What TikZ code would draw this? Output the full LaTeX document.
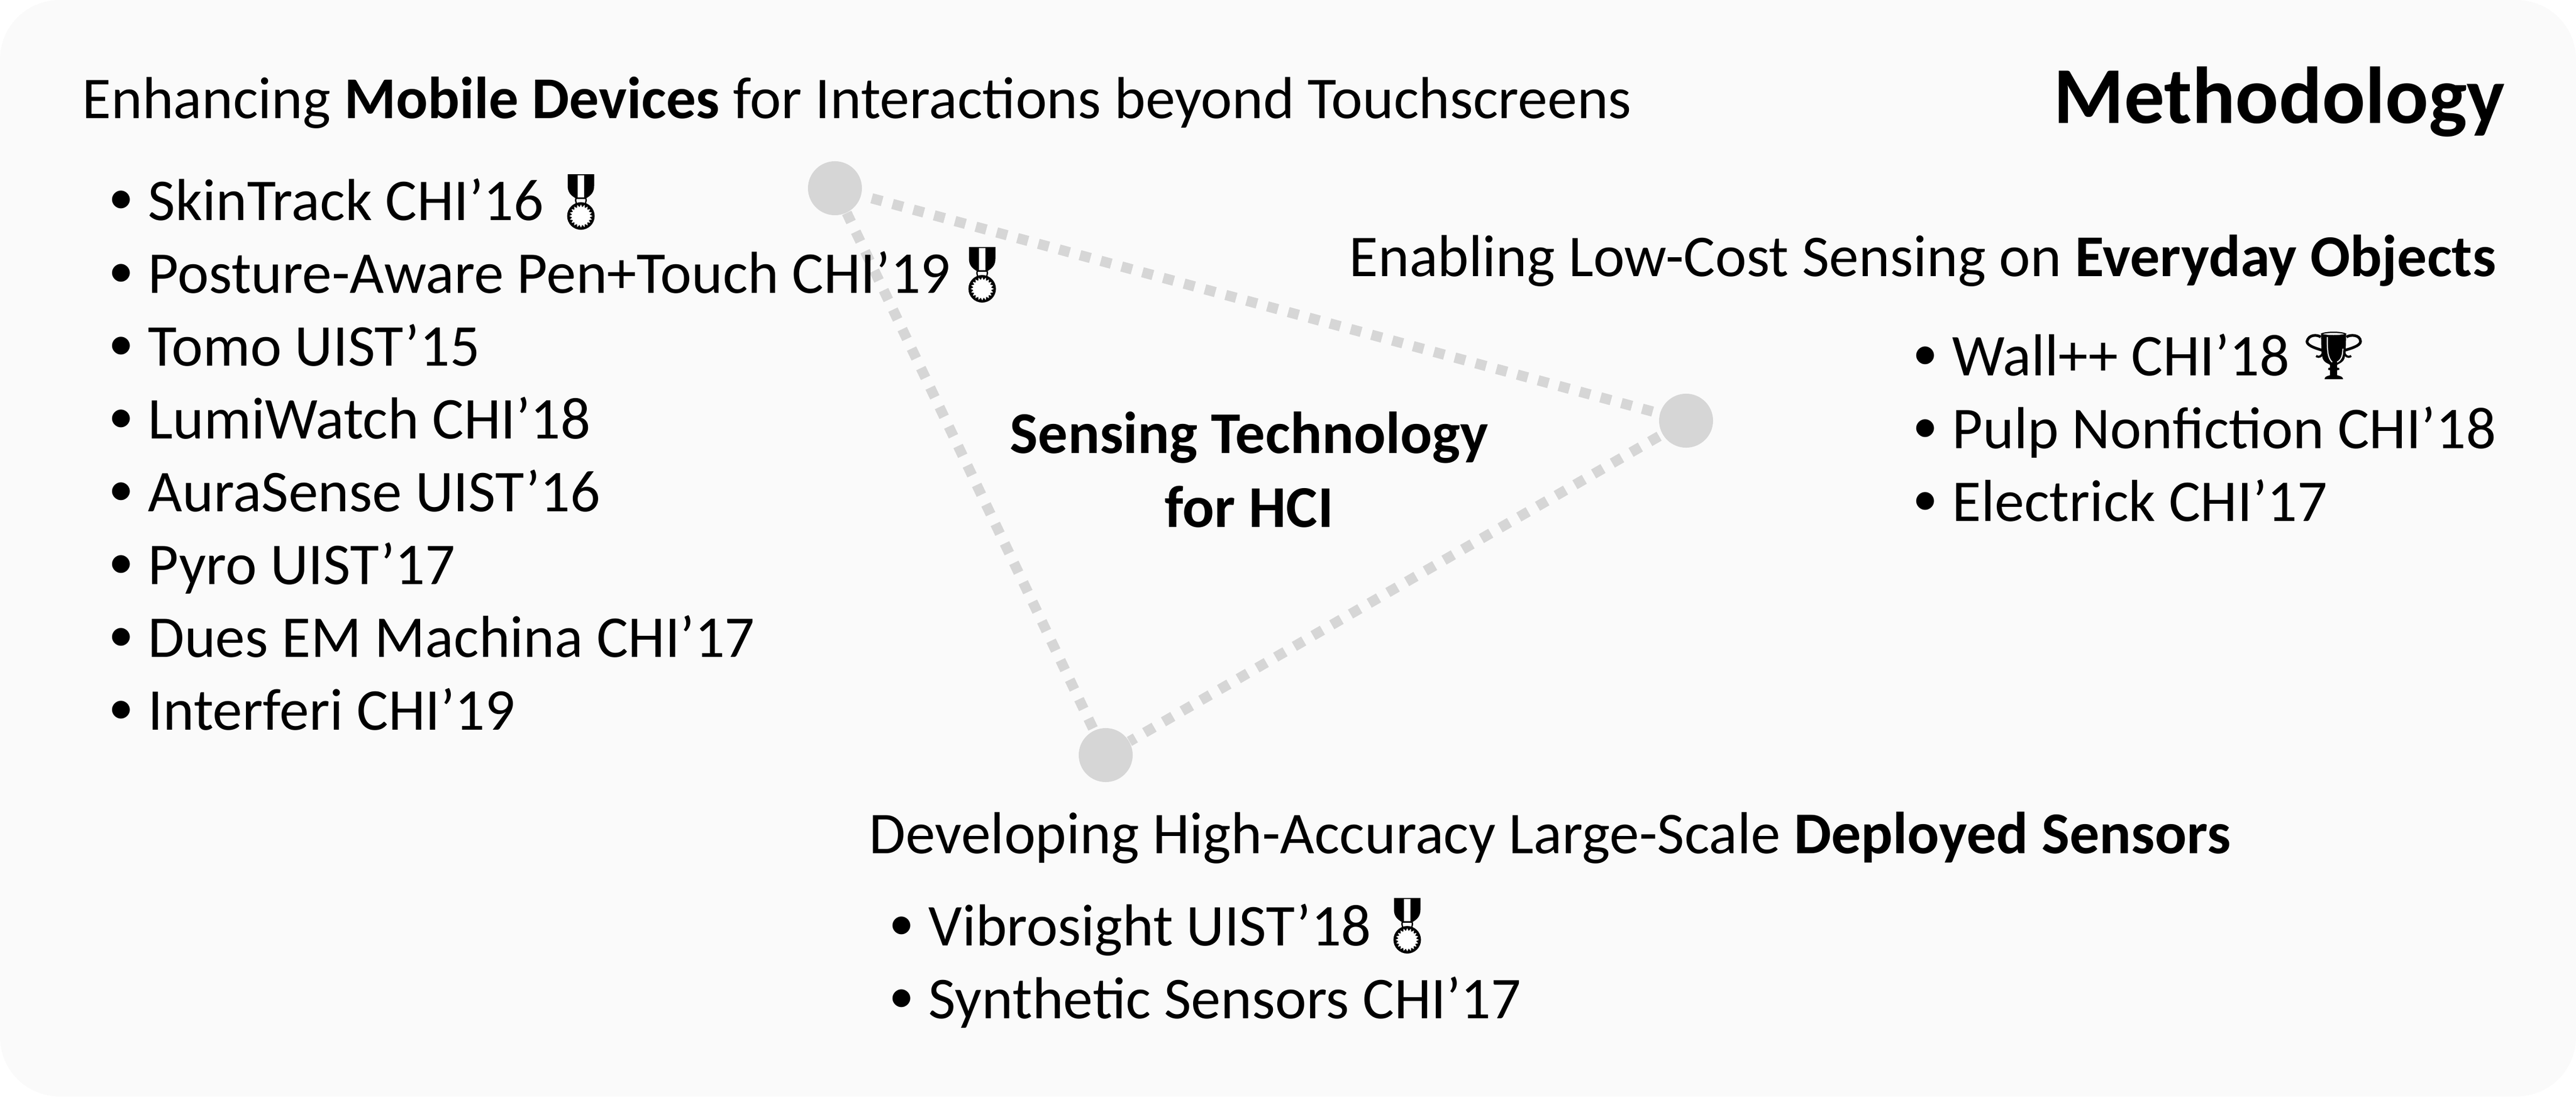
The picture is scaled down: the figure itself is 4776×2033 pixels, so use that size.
\documentclass[tikz,border=0pt]{standalone}
\usepackage{fontspec}
\setmainfont{Carlito}
\usepackage{tikz}

\definecolor{panelgray}{HTML}{FAFAFA}
\definecolor{dotgray}{HTML}{D6D6D6}

\tikzset{
  headtext/.style={anchor=base west,inner sep=0pt,font=\fontsize{31.25}{38}\selectfont},
  itemtext/.style={anchor=base west,inner sep=0pt,font=\fontsize{31.25}{38}\selectfont},
  cornerdot/.style={circle,fill=dotgray,inner sep=0pt,minimum size=1cm},
  dotline/.style={draw=dotgray,line width=.19cm,dash pattern=on .2cm off .2cm}
}

% bullet hangs left of the item text
\newcommand{\itembul}{\llap{\raisebox{.11cm}{\fontsize{26.5}{30}\selectfont\textbullet}\hspace{.265cm}}}

% medal, origin at the top middle of the ribbon
\newcommand{\medalicon}[2]{
  \begin{scope}[shift={(#1,#2)}]
    \fill (-24.5,0)--(24.5,0)--(24.5,22) .. controls (24.5,34) and (18,40) .. (9,45)--(-9,45) .. controls (-18,40) and (-24.5,34) .. (-24.5,22)--cycle;
    \fill[white] (-6,2)--(6,2)--(6,43)--(-6,43)--cycle;
    \draw[line width=.025cm] (-9,44) .. controls (-10,49) .. (-8,55);
    \draw[line width=.025cm] (9,44) .. controls (10,49) .. (8,55);
    \draw[line width=.025cm] (-9,45)--(9,45);
    \fill (0,77.5) circle (25.5);
    \begin{scope}[shift={(0,77.5)}]
      \fill[white] plot[samples=41,domain=0:360] (\x:{21.5-5*mod(round(\x/9),2)});
    \end{scope}
  \end{scope}
}

\begin{document}
\begin{tikzpicture}[x=.01cm,y=-.01cm]
    \useasboundingbox (0,0) rectangle (4776,2033);
    \fill[panelgray,rounded corners=1.1cm] (0,0) rectangle (4776,2033);

    \node[cornerdot] (mobile) at (1548,349) {};
    \node[cornerdot] (objects) at (3126,780) {};
    \node[cornerdot] (deployed) at (2050,1400) {};
    \draw[dotline,dash phase=.2cm] (mobile)--(objects);
    \draw[dotline,dash phase=.33cm] (objects)--(deployed);
    \draw[dotline,dash phase=.36cm] (deployed)--(mobile);

    \node[anchor=base west,inner sep=0pt,font=\fontsize{42.5}{50}\selectfont\bfseries] (title) at (3807,228) {Methodology};
    \node[align=center,inner sep=0pt,font=\fontsize{31.25}{39}\selectfont\bfseries] (topic) at (2316,871) {Sensing Technology\\for HCI};

    \node[headtext] (mobilehead) at (152,219) {Enhancing \textbf{Mobile Devices} for Interactions beyond Touchscreens};
    \node[itemtext] (skintrack) at (274,408) {\itembul SkinTrack CHI’16};
    \node[itemtext] (posture) at (274,543) {\itembul Posture-Aware Pen+Touch CHI’19};
    \node[itemtext] (tomo) at (274,678) {\itembul Tomo UIST’15};
    \node[itemtext] (lumiwatch) at (274,813) {\itembul LumiWatch CHI’18};
    \node[itemtext] (aurasense) at (274,948) {\itembul AuraSense UIST’16};
    \node[itemtext] (pyro) at (274,1083) {\itembul Pyro UIST’17};
    \node[itemtext] (dues) at (274,1218) {\itembul Dues EM Machina CHI’17};
    \node[itemtext] (interferi) at (274,1353) {\itembul Interferi CHI’19};

    \node[headtext] (objectshead) at (2501,512) {Enabling Low-Cost Sensing on \textbf{Everyday Objects}};
    \node[itemtext] (wall) at (3619,696) {\itembul Wall++ CHI’18};
    \node[itemtext] (pulp) at (3619,831) {\itembul Pulp Nonfiction CHI’18};
    \node[itemtext] (electrick) at (3619,966) {\itembul Electrick CHI’17};

    \node[headtext] (deployedhead) at (1611,1582) {Developing High-Accuracy Large-Scale \textbf{Deployed Sensors}};
    \node[itemtext] (vibrosight) at (1721,1753) {\itembul Vibrosight UIST’18};
    \node[itemtext] (synthetic) at (1721,1888) {\itembul Synthetic Sensors CHI’17};

    \medalicon{1077}{323}
    \medalicon{1821}{458}
    \medalicon{2609}{1665}

    % trophy, traced in a 3x frame
    \begin{scope}[shift={(4200,570)},x=.00333cm,y=-.00333cm]
      \fill (310,145) .. controls (340,132) and (420,132) .. (450,145) .. controls (448,200) and (450,280) .. (435,295) .. controls (425,310) and (405,315) .. (400,320)--(400,335)--(412,338)--(412,348)--(400,350)--(400,378) .. controls (415,382) and (433,385) .. (433,400)--(330,400) .. controls (330,385) and (345,382) .. (360,378)--(360,350)--(350,348)--(350,338)--(360,335)--(360,320) .. controls (350,312) and (335,310) .. (325,295) .. controls (310,280) and (312,200) .. (310,145)--cycle;
      \fill[white] (320,148) .. controls (350,140) and (410,140) .. (440,148) .. controls (410,156) and (350,156) .. (320,148)--cycle;
      \draw[white,line width=.02cm] (345,165) .. controls (345,230) and (345,280) .. (372,305);
      \draw[white,line width=.02cm] (432,230) .. controls (430,270) and (425,290) .. (400,305);
      \draw[line width=.05cm] (308,165) .. controls (290,150) and (240,150) .. (232,190) .. controls (232,215) and (290,230) .. (320,240);
      \draw[line width=.05cm] (452,165) .. controls (470,150) and (530,150) .. (530,190) .. controls (530,215) and (470,230) .. (440,240);
      \draw[line width=.04cm] (320,240) .. controls (325,265) and (300,285) .. (283,270);
      \draw[line width=.04cm] (440,240) .. controls (435,265) and (460,285) .. (478,270);
    \end{scope}
\end{tikzpicture}
\end{document}
